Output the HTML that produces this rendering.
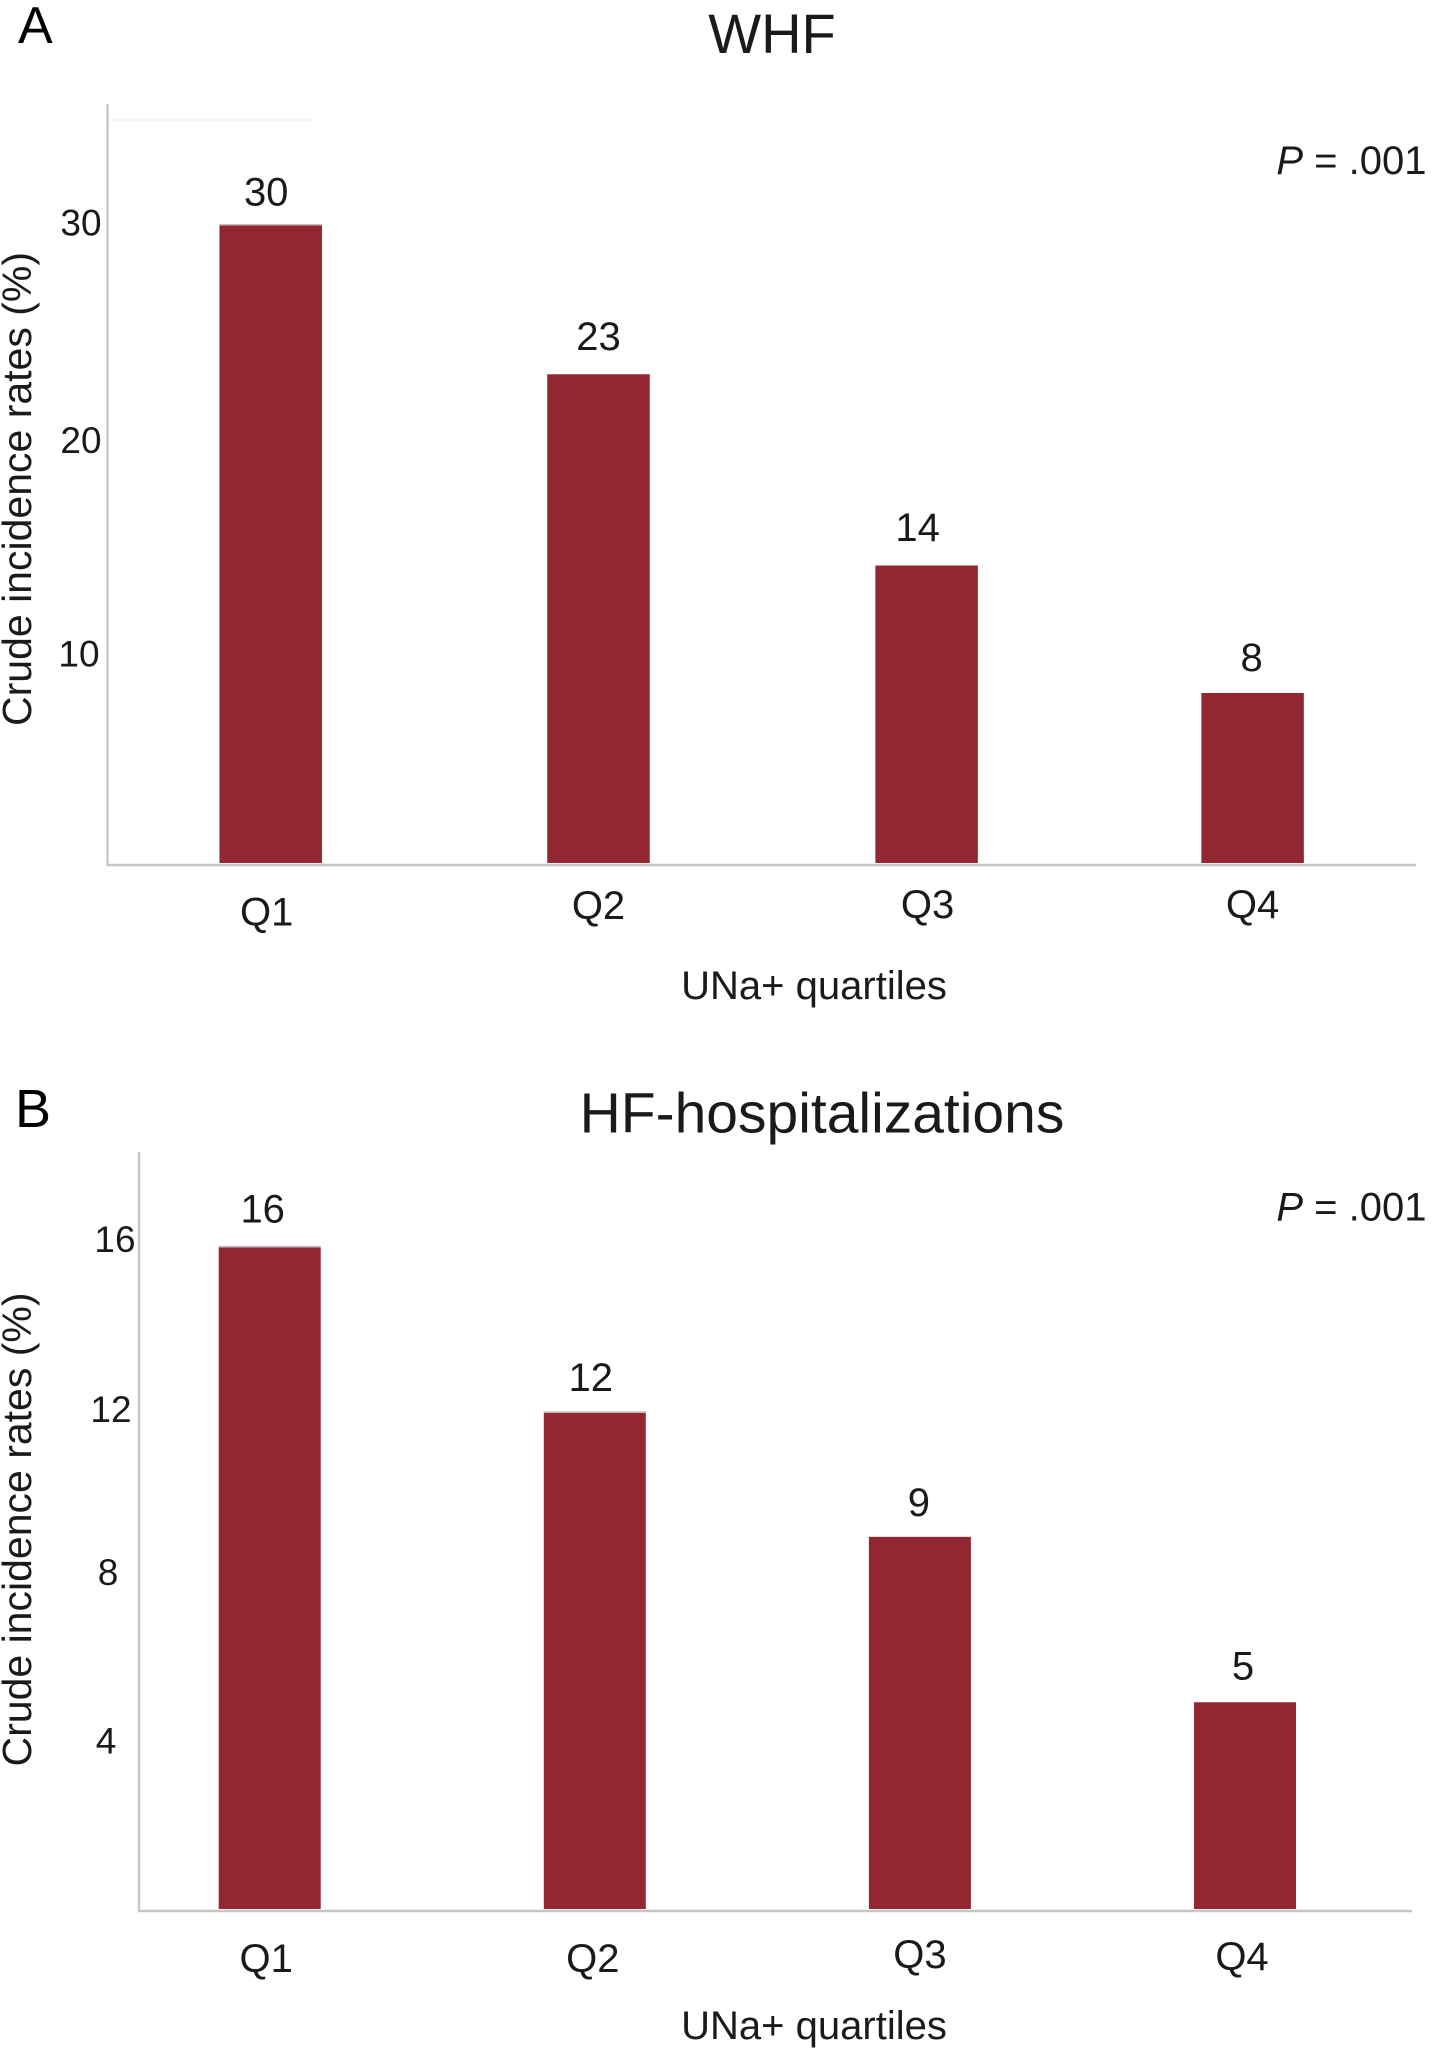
<!DOCTYPE html>
<html lang="en">
<head>
<meta charset="utf-8">
<title>WHF and HF-hospitalizations by UNa+ quartiles</title>
<style>
html,body{margin:0;padding:0;background:#fff;}
svg{display:block;}
text{font-family:"Liberation Sans",Arial,sans-serif;fill:#1a1a1a;}
</style>
</head>
<body>
<svg id="figure" xmlns="http://www.w3.org/2000/svg" width="1440" height="2051" viewBox="0 0 1440 2051">
  <rect width="1440" height="2051" fill="#ffffff"/>
  <text x="18" y="43" font-size="52" style="fill:#000">A</text>
  <text x="772" y="53" font-size="56" text-anchor="middle">WHF</text>
  <text x="1426.5" y="174" font-size="40" text-anchor="end"><tspan font-style="italic">P</tspan> = .001</text>
  <text x="15" y="1127" font-size="54" style="fill:#000">B</text>
  <text x="822" y="1132.5" font-size="57" text-anchor="middle">HF-hospitalizations</text>
  <text x="1426.5" y="1220.5" font-size="40" text-anchor="end"><tspan font-style="italic">P</tspan> = .001</text>
  <line x1="108" y1="120" x2="314" y2="120" stroke="#f1f1f1" stroke-width="1.5"/>
  <g id="panel-a"></g>
  <g id="panel-b"></g>
</svg>
<script>
// Chart data
const quartileCategories = ['Q1', 'Q2', 'Q3', 'Q4'];
const whfValues = [30, 23, 14, 8];
const whfTickLabels = [10, 20, 30];
const hospitalizationValues = [16, 12, 9, 5];
const hospitalizationTickLabels = [4, 8, 12, 16];

const NS = 'http://www.w3.org/2000/svg';

function make(parent, tag, attrs) {
  const el = document.createElementNS(NS, tag);
  for (const k in attrs) el.setAttribute(k, attrs[k]);
  parent.appendChild(el);
  return el;
}

function drawPanel(host, prefix, categories, values, ticks, cfg) {
  const yScale = v => cfg.baseY - v * cfg.unit;
  const xCenter = i => cfg.firstCenter + i * cfg.step + cfg.barNudgeX[i];

  const yAxis = make(host, 'line', {x1: cfg.axisX, y1: cfg.topY, x2: cfg.axisX, y2: cfg.baseY + 2, stroke: '#c6c6c4', 'stroke-width': 2.4});
  
  

  const xAxis = make(host, 'line', {x1: cfg.axisX - 1, y1: cfg.baseY + 2, x2: cfg.axisEnd, y2: cfg.baseY + 2, stroke: '#c6c6c4', 'stroke-width': 2.4});
  
  

  ticks.forEach((t, i) => {
    const label = make(host, 'text', {x: cfg.tickX + cfg.tickNudgeX[i], y: yScale(t) + cfg.tickNudgeY[i] + 13, 'font-size': 37, 'text-anchor': 'middle'});
    label.textContent = t;
    
    
  });

  categories.forEach((c, i) => {
    const v = values[i];
    const top = yScale(v);

    const bar = make(host, 'rect', {x: xCenter(i) - cfg.barW / 2, y: top, width: cfg.barW, height: cfg.baseY - top, fill: '#922732'});
    
    

    if (i < cfg.capped) {
      const cap = make(host, 'rect', {x: xCenter(i) - cfg.barW / 2, y: top - 1.5, width: cfg.barW, height: 1.5, fill: '#c4bcbc'});
      
      
    }

    const val = make(host, 'text', {x: xCenter(i) + cfg.valueNudgeX[i], y: top - cfg.valueGap[i] + 14, 'font-size': 40, 'text-anchor': 'middle'});
    val.textContent = v;
    
    

    const cat = make(host, 'text', {x: xCenter(i) + cfg.catNudgeX[i], y: cfg.baseY + cfg.catGap[i] + 14, 'font-size': 40, 'text-anchor': 'middle'});
    cat.textContent = c;
    
    
  });

  const xTitle = make(host, 'text', {x: 814, y: cfg.xTitleY, 'font-size': 40, 'text-anchor': 'middle'});
  xTitle.textContent = 'UNa+ quartiles';
  
  

  const yTitle = make(host, 'text', {transform: 'translate(31,' + cfg.yTitleCenter + ') rotate(-90)', 'font-size': 41, 'text-anchor': 'middle'});
  yTitle.textContent = 'Crude incidence rates (%)';
  
  
}

drawPanel(document.getElementById('panel-a'), 'whf', quartileCategories, whfValues, whfTickLabels, {
  baseY: 863, unit: 21.25, topY: 104, axisX: 107.5, axisEnd: 1416,
  firstCenter: 270.7, step: 327.3, barW: 102.5, capped: 1,
  barNudgeX: [0, 0.5, 1.3, 0],
  tickX: 80, tickNudgeX: [-1, 1, 1], tickNudgeY: [3, 2, -3],
  valueNudgeX: [-4.5, 0, -9, -1], valueGap: [34, 38.5, 38.5, 36],
  catNudgeX: [-4, 0, 1, 0], catGap: [48.5, 42, 41, 41],
  xTitleY: 999, yTitleCenter: 489
});

drawPanel(document.getElementById('panel-b'), 'hospitalization', quartileCategories, hospitalizationValues, hospitalizationTickLabels, {
  baseY: 1909, unit: 41.35, topY: 1152, axisX: 139, axisEnd: 1412,
  firstCenter: 269.7, step: 325.1, barW: 102, capped: 2,
  barNudgeX: [0, 0, 0, 0],
  tickX: 108, tickNudgeX: [-2, 0, 3, 7], tickNudgeY: [-3, -6, -4, -8.5],
  valueNudgeX: [-7, -4, -1, -2], valueGap: [39, 36, 35, 37],
  catNudgeX: [-3.5, -2, 0, -3], catGap: [49, 49, 45, 47],
  xTitleY: 2039, yTitleCenter: 1529.5
});
</script>
</body>
</html>
